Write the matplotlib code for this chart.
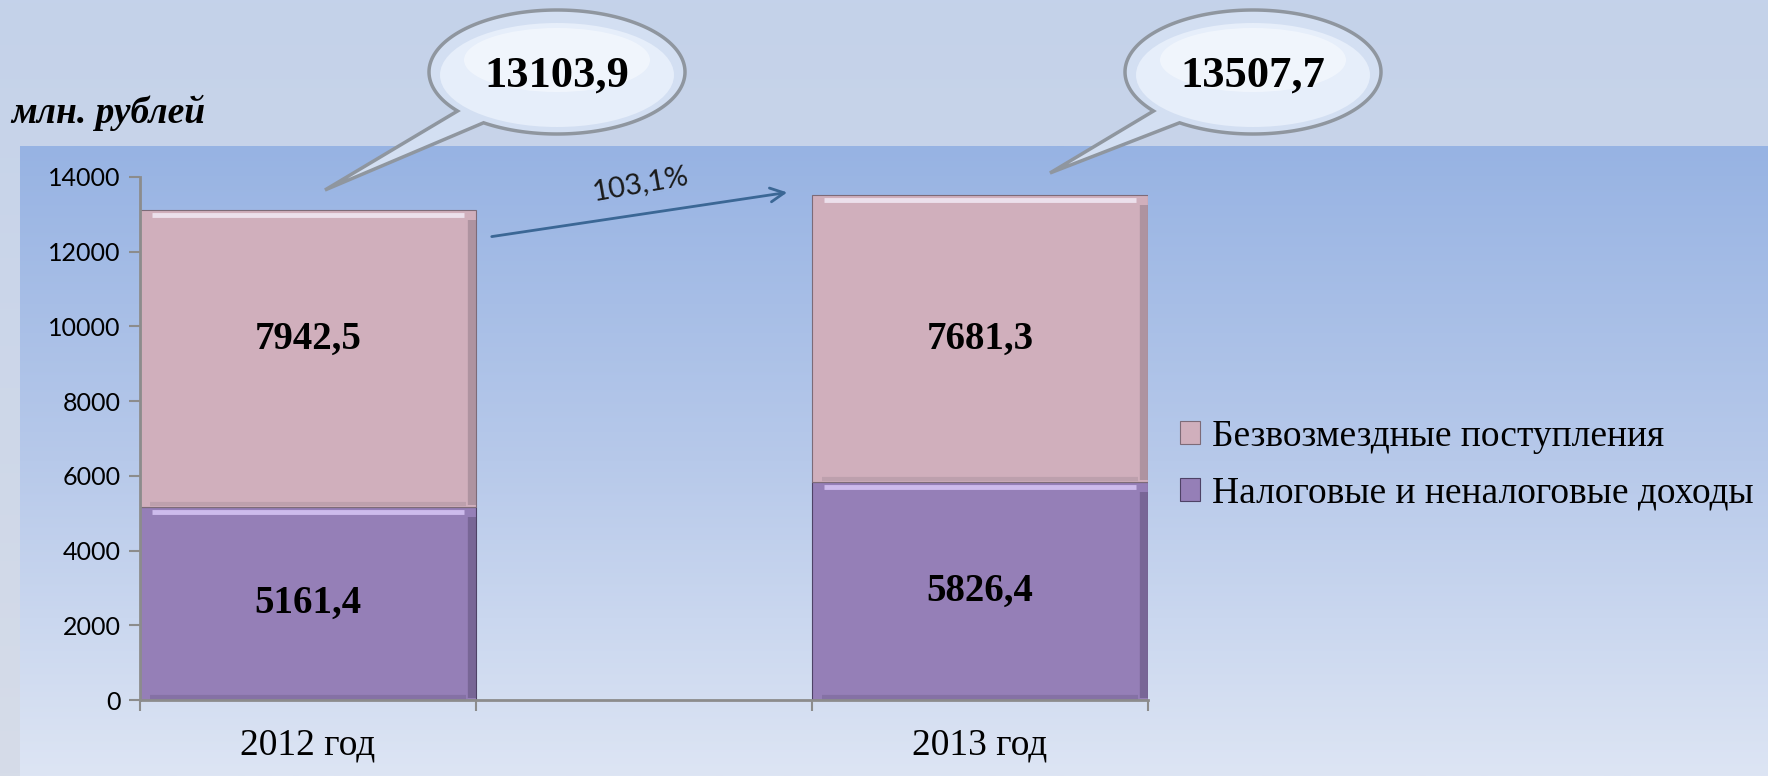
import numpy as np
import matplotlib
matplotlib.use("Agg")
import matplotlib.pyplot as plt
import matplotlib.transforms as mtransforms
from matplotlib.patches import Polygon, Ellipse, Patch

# ---- data ----
categories = ["2012 год", "2013 год"]
nalog = [5161.4, 5826.4]          # Налоговые и неналоговые доходы
bezvozm = [7942.5, 7681.3]        # Безвозмездные поступления
series_names = ["Безвозмездные поступления", "Налоговые и неналоговые доходы"]
yticks = [0, 2000, 4000, 6000, 8000, 10000, 12000, 14000]

totals = [a + b for a, b in zip(nalog, bezvozm)]
growth = totals[1] / totals[0] * 100

def ru(v, nd=1):
    return f"{v:.{nd}f}".replace(".", ",")

C_PINK = "#d0afbc"
C_PINK_L = "#ece0ec"
C_PINK_D = "#7d6b78"
C_PURP = "#957fb7"
C_PURP_L = "#cdbbec"
C_PURP_D = "#4e4266"
C_AXIS = "#8c8c8c"
SERIF = "Liberation Serif"
SANS = "Lato"

W, H = 1768, 776
fig = plt.figure(figsize=(W / 100, H / 100), dpi=100)

# ---- background (pixel coords, y down) ----
bg = fig.add_axes([0, 0, 1, 1], zorder=-10)
bg.set_xlim(0, W); bg.set_ylim(H, 0); bg.axis("off")
grad = np.linspace(0, 1, 256)[:, None]
bg_cmap = matplotlib.colors.LinearSegmentedColormap.from_list("bg", ["#c4d2ea", "#d6dce8"])
bg.imshow(grad, cmap=bg_cmap, extent=(0, W, H, 0), aspect="auto")
area_cmap = matplotlib.colors.LinearSegmentedColormap.from_list(
    "area", ["#97b3e3", "#b7c9ea", "#dde5f4"])
bg.imshow(grad, cmap=area_cmap, extent=(20, W, H, 146), aspect="auto")

# ---- main chart ----
left, right, top, bottom = 140, 1148, 177, 700
ax = fig.add_axes([left / W, 1 - bottom / H, (right - left) / W, (bottom - top) / H])
ax.patch.set_alpha(0)
xpos = [0, 2]
bw = 1.0
ax.bar(xpos, nalog, bw, color=C_PURP, edgecolor=C_PURP_D, lw=0.8, zorder=2)
ax.bar(xpos, bezvozm, bw, bottom=nalog, color=C_PINK, edgecolor=C_PINK_D, lw=0.8, zorder=2)

# bevel highlights / shading
segs = [(x, 0, n, C_PURP_L, C_PURP_D) for x, n in zip(xpos, nalog)] + \
       [(x, n, z, C_PINK_L, C_PINK_D) for x, n, z in zip(xpos, nalog, bezvozm)]
for x, b0, h0, lc, dc in segs:
    tr_top = mtransforms.offset_copy(ax.transData, fig=fig, y=-5, units="dots")
    ax.plot([x - bw / 2 + 0.035, x + bw / 2 - 0.035], [b0 + h0, b0 + h0], color=lc,
            lw=3.5, transform=tr_top, zorder=3, solid_capstyle="butt")
    tr_r = mtransforms.offset_copy(ax.transData, fig=fig, x=-4, units="dots")
    ax.plot([x + bw / 2, x + bw / 2], [b0 + 60, b0 + h0 - 250], color=dc,
            lw=6, alpha=0.4, transform=tr_r, zorder=3, solid_capstyle="butt")
    tr_b = mtransforms.offset_copy(ax.transData, fig=fig, y=3, units="dots")
    ax.plot([x - bw / 2 + 0.03, x + bw / 2 - 0.03], [b0, b0], color=dc,
            lw=3, alpha=0.22, transform=tr_b, zorder=3, solid_capstyle="butt")

# value labels
top_y = max(n + z / 2 for n, z in zip(nalog, bezvozm))
for x, n, z in zip(xpos, nalog, bezvozm):
    ax.text(x, n / 2, ru(n), ha="center", va="center", fontsize=28,
            fontweight="bold", family=SERIF, zorder=5)
    ax.text(x, top_y, ru(z), ha="center", va="center", fontsize=28,
            fontweight="bold", family=SERIF, zorder=5)

ax.set_xlim(-0.5, 2.5)
ax.set_ylim(0, 14000)
ax.set_yticks(yticks)
ax.set_yticklabels([str(v) for v in yticks], fontsize=18, family=SANS)
ax.set_xticks([-0.5, 0.5, 1.5, 2.5])
ax.set_xticklabels([])
ax.set_xticks(xpos, minor=True)
ax.set_xticklabels(categories, minor=True, fontsize=27, family=SERIF)
ax.tick_params(axis="x", which="minor", length=0, pad=20)
ax.tick_params(axis="x", which="major", length=8, width=1.5, color=C_AXIS, direction="out")
ax.tick_params(axis="y", length=8, width=1.5, color=C_AXIS, pad=6)
for s in ["top", "right"]:
    ax.spines[s].set_visible(False)
for s in ["left", "bottom"]:
    ax.spines[s].set_color(C_AXIS)
    ax.spines[s].set_linewidth(2)

# legend
handles = [Patch(fc=C_PINK, ec=C_PINK_D, lw=0.8), Patch(fc=C_PURP, ec=C_PURP_D, lw=0.8)]
fig.legend(handles, series_names, loc="center left",
           bbox_to_anchor=(1146 / W, 1 - 465 / H), frameon=False,
           prop={"family": SERIF, "size": 27}, handlelength=0.55, handleheight=0.55,
           handletextpad=0.3, labelspacing=0.6)

# unit label
fig.text(11 / W, 1 - 123 / H, "млн. рублей", family=SERIF, fontsize=27,
         fontweight="bold", style="italic", ha="left", va="baseline")

# ---- overlay: callouts and growth arrow ----
ov = fig.add_axes([0, 0, 1, 1], zorder=10)
ov.set_xlim(0, W); ov.set_ylim(H, 0); ov.axis("off")


def bubble(cx, cy, tip, text):
    a, b = 128, 62
    t = np.radians(np.linspace(141, 360 + 125, 200))
    pts = np.column_stack([cx + a * np.cos(t), cy + b * np.sin(t)])
    pts = np.vstack([pts, tip])
    ov.add_patch(Polygon(pts, closed=True, fc="#d3dff2", ec="#8f969f", lw=2.5, zorder=1))
    ov.add_patch(Ellipse((cx, cy + 3), 2 * a - 22, 2 * b - 20, fc="#e6eefa", ec="none", zorder=2))
    ov.add_patch(Ellipse((cx, cy - 12), 2 * a - 70, 2 * b - 60, fc="#f3f7fd", ec="none",
                         alpha=0.8, zorder=2))
    ov.text(cx, cy + 4, text, ha="center", va="center", fontsize=32,
            fontweight="bold", family=SERIF, zorder=3)


bubble(557, 72, (325, 190), ru(totals[0]))
bubble(1253, 72, (1050, 173), ru(totals[1]))

ov.annotate("", xy=(790, 192), xytext=(489, 237),
            arrowprops=dict(arrowstyle="->,head_length=1.0,head_width=0.5",
                            color="#3b6795", lw=2))
ov.text(640, 184, ru(growth) + "%", fontsize=21, family=SANS, rotation=10,
        ha="center", va="center", color="#1a1a1a")

fig.savefig("out.png", dpi=100)
